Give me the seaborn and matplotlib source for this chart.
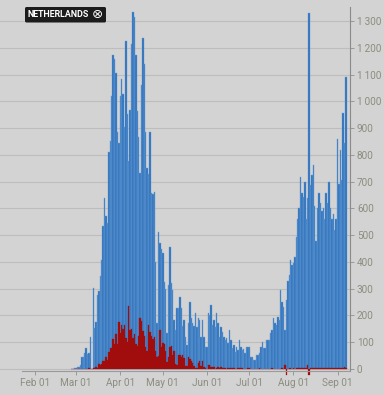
import pandas as pd
import matplotlib
matplotlib.use('Agg')
import matplotlib.pyplot as plt
from matplotlib.patches import FancyBboxPatch
import seaborn as sns

# daily values, 2020-02-27 .. 2020-09-07
START = '2020-02-27'
END = '2020-09-07'
ORIGIN = '2020-02-01'

cases = [
    1, 1, 4,
    # Mar
    4, 8, 6, 14, 44, 46, 60, 77, 56, 61, 121, 0, 304, 155, 176, 278, 292, 346,
    409, 534, 637, 573, 545, 811, 852, 1019, 1172, 1159, 1104, 884, 845,
    # Apr
    1019, 1083, 1026, 904, 1224, 952, 777, 969, 1213, 1335, 1316, 1174, 964,
    868, 734, 1061, 1235, 1140, 885, 750, 729, 885, 657, 655, 660, 400, 171,
    511, 470, 450,
    # May
    433, 325, 300, 134, 313, 455, 320, 295, 183, 146, 228, 228, 270, 228, 160,
    183, 120, 90, 172, 250, 190, 172, 160, 208, 157, 190, 183, 120, 183, 120, 82,
    # Jun
    82, 208, 201, 240, 165, 183, 157, 208, 172, 120, 157, 140, 120, 108, 115,
    97, 145, 108, 78, 90, 63, 82, 70, 108, 82, 70, 75, 60, 82, 82,
    # Jul
    82, 45, 45, 34, 34, 52, 52, 60, 82, 100, 77, 77, 108, 108, 108, 134, 146,
    190, 172, 165, 194, 183, 295, 250, 231, 146, 257, 330, 351, 407, 388,
    # Aug
    395, 420, 493, 560, 600, 717, 657, 642, 698, 560, 640, 1330, 687, 724, 761,
    610, 480, 600, 657, 620, 590, 600, 560, 657, 620, 698, 600, 560, 580, 520, 560,
    # Sep
    858, 690, 817, 705, 955, 843, 1090,
]

deaths = [
    0, 0, 0,
    # Mar
    0, 0, 0, 0, 0, 1, 0, 0, 0, 3, 1, 0, 5, 2, 8, 4, 19, 15, 18, 30, 30, 43, 34,
    63, 80, 78, 112, 93, 132, 93, 175,
    # Apr
    134, 166, 148, 164, 115, 101, 234, 147, 148, 115, 132, 94, 86, 122, 189,
    181, 142, 124, 83, 67, 165, 138, 123, 112, 120, 66, 43, 48, 145, 84,
    # May
    98, 94, 69, 26, 43, 84, 86, 54, 68, 18, 15, 54, 52, 43, 53, 41, 11, 10, 43,
    38, 29, 21, 10, 5, 4, 22, 30, 12, 29, 9, 4,
    # Jun
    1, 14, 15, 6, 9, 8, 1, 3, 7, 2, 6, 3, 4, 3, 1, 5, 3, 2, 3, 2, 1, 0, 4, 2, 2,
    3, 1, 0, 1, 2,
    # Jul
    2, 1, 0, 1, 0, 0, 1, 2, 1, 0, 1, 0, 0, 1, 0, 1, 2, 0, 0, 1, 0, 1, 0, 2, 1,
    14, -22, 1, 2, 3, 1,
    # Aug
    2, 1, 3, 2, 4, 3, 2, 3, 5, 2, 14, -22, 3, 4, 2, 3, 5, 4, 3, 2, 4, 3, 2, 5,
    4, 3, 2, 4, 3, 2, 5,
    # Sep
    4, 3, 5, 4, 3, 6, 5,
]

month_ticks = ['2020-02-01', '2020-03-01', '2020-04-01', '2020-05-01',
               '2020-06-01', '2020-07-01', '2020-08-01', '2020-09-01']
month_labels = ['Feb 01', 'Mar 01', 'Apr 01', 'May 01',
                'Jun 01', 'Jul 01', 'Aug 01', 'Sep 01']
y_ticks = list(range(0, 1400, 100))
country = 'NETHERLANDS'

BG = '#d3d3d3'
BLUE = '#2d70ba'
BLUE_EDGE = '#6b9fd6'
RED = '#a10d0d'
TXT = '#8c8c80'

df = pd.DataFrame({'date': pd.date_range(START, END),
                   'cases': cases, 'deaths': deaths})
df['day'] = (df['date'] - pd.Timestamp(ORIGIN)).dt.days

sns.set_style('white')
plt.rcParams['font.family'] = ['Roboto', 'DejaVu Sans']

W, H = 384, 395
fig = plt.figure(figsize=(W / 100, H / 100), dpi=100, facecolor=BG)
ax = fig.add_axes([0, 0.0387, 350 / W, 0.9433])
ax.set_facecolor(BG)
ax.set_axisbelow(True)

sns.barplot(data=df, x='day', y='cases', native_scale=True, width=1,
            color=BLUE, saturation=1, edgecolor=BLUE_EDGE, linewidth=0.3,
            errorbar=None, ax=ax)
sns.barplot(data=df, x='day', y='deaths', native_scale=True, width=1,
            color=RED, saturation=1, edgecolor=RED, linewidth=0.2,
            errorbar=None, ax=ax)

ax.set_xlim(-24.65, 221.8)
ax.set_ylim(-40, 1352)
ax.set_xlabel('')
ax.set_ylabel('')

xt = [(pd.Timestamp(d) - pd.Timestamp(ORIGIN)).days for d in month_ticks]
ax.set_xticks(xt)
ax.set_xticklabels(month_labels)
ax.yaxis.tick_right()
ax.set_yticks(y_ticks)
ax.set_yticklabels([f'{v:,}'.replace(',', '\u2009') for v in y_ticks])

ax.yaxis.grid(True, color='#bdbdbd', lw=0.8)
ax.xaxis.grid(False)

for s in ['left', 'top']:
    ax.spines[s].set_visible(False)
ax.spines['right'].set_color('#8a8a8a')
ax.spines['right'].set_linewidth(0.8)
ax.spines['right'].set_bounds(-6, 1352)
ax.spines['bottom'].set_position(('data', -6))
ax.spines['bottom'].set_bounds(-9.15, 221.8)
ax.spines['bottom'].set_color('#9a9a9a')
ax.spines['bottom'].set_linewidth(0.8)

ax.tick_params(axis='x', direction='out', length=3, width=0.6, color='#909090',
               labelsize=7.2, labelcolor=TXT, pad=2, bottom=True)
ax.tick_params(axis='y', direction='out', length=3, width=0.6, color='#909090',
               labelsize=7.2, labelcolor=TXT, pad=2, right=True, left=False)

# country badge, top left
badge = FancyBboxPatch((25 / W, 1 - 22.5 / H), 81 / W, 15.5 / H,
                       boxstyle='round,pad=0,rounding_size=0.004',
                       transform=fig.transFigure, fc='#1c1c1c', ec='none')
fig.add_artist(badge)
fig.text(28 / W, 1 - 14.8 / H, country, color='white', fontsize=6.4,
         fontweight='bold', va='center', ha='left')
fig.text(97.5 / W, 1 - 14.5 / H, '\u2297', color='white', fontsize=9.5,
         va='center', ha='center', family=['DejaVu Sans'])

fig.savefig('out.png', dpi=100, facecolor=BG)
